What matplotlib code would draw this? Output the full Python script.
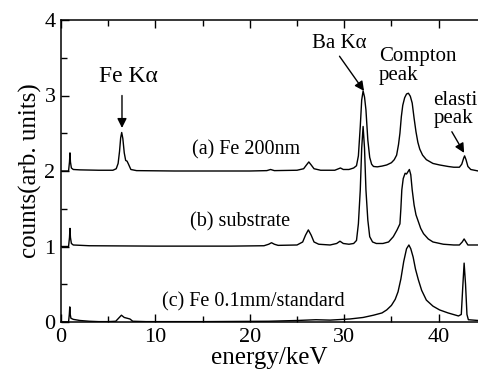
import matplotlib
matplotlib.use('Agg')
import matplotlib.pyplot as plt
from matplotlib.ticker import MultipleLocator

plt.rcParams['font.family'] = ['Liberation Serif', 'DejaVu Serif']
plt.rcParams['mathtext.fontset'] = 'stix'

# ---- spectra (energy in keV, counts in arb. units) ----
energy_a = [0.0, 0.8, 0.9, 0.95, 1.0, 1.1, 1.3, 2.0, 4.0, 5.5, 5.85, 6.05, 6.2, 6.32, 6.43, 6.55,
            6.7, 6.85, 7.0, 7.15, 7.4, 8.0, 12.0, 16.0, 20.0, 21.8, 22.2, 22.6, 25.0, 25.7,
            26.0, 26.25, 26.5, 26.8, 27.5, 29.0, 29.4, 29.6, 29.9, 30.5, 31.0, 31.3, 31.5,
            31.7, 31.85, 32.0, 32.15, 32.3, 32.5, 32.7, 32.9, 33.1, 33.5, 34.0, 34.5, 35.0,
            35.3, 35.55, 35.75, 35.9, 36.05, 36.2, 36.4, 36.6, 36.8, 37.0, 37.2, 37.4, 37.6,
            37.8, 38.0, 38.3, 38.7, 39.4, 40.1, 41.0, 41.6, 42.2, 42.45, 42.65, 42.75, 42.9,
            43.1, 43.4, 44.2]
counts_a = [2.00, 2.00, 2.12, 2.24, 2.12, 2.04, 2.02, 2.015, 2.01, 2.01, 2.03, 2.10, 2.26,
            2.44, 2.51, 2.43, 2.24, 2.14, 2.13, 2.09, 2.02, 2.005, 2.0, 2.0, 2.0, 2.005, 2.02,
            2.005, 2.01, 2.03, 2.08, 2.12, 2.08, 2.03, 2.01, 2.01, 2.03, 2.04, 2.02, 2.02,
            2.04, 2.07, 2.20, 2.59, 2.94, 3.06, 2.98, 2.81, 2.41, 2.18, 2.09, 2.06, 2.055,
            2.065, 2.08, 2.11, 2.15, 2.21, 2.35, 2.50, 2.72, 2.87, 2.97, 3.02, 3.03, 2.99,
            2.90, 2.70, 2.52, 2.38, 2.29, 2.21, 2.15, 2.10, 2.08, 2.06, 2.05, 2.05, 2.09,
            2.17, 2.20, 2.15, 2.06, 2.02, 2.00]

energy_b = [0.0, 0.8, 0.9, 0.95, 1.0, 1.1, 1.3, 3.0, 10.0, 18.0, 21.5, 22.0, 22.3, 22.6, 23.0,
            25.0, 25.6, 25.9, 26.2, 26.5, 26.8, 27.3, 28.5, 29.2, 29.55, 29.9, 30.5, 31.0,
            31.3, 31.5, 31.7, 31.85, 32.0, 32.15, 32.3, 32.5, 32.7, 33.0, 33.4, 34.1, 34.7,
            35.2, 35.6, 35.9, 36.0, 36.1, 36.25, 36.45, 36.6, 36.75, 36.9, 37.05, 37.2, 37.4,
            37.6, 37.85, 38.1, 38.4, 38.9, 39.4, 40.5, 41.6, 42.2, 42.5, 42.7, 42.9, 43.1,
            44.2]
counts_b = [1.00, 1.00, 1.12, 1.24, 1.12, 1.04, 1.02, 1.01, 1.005, 1.005, 1.01, 1.03, 1.05,
            1.03, 1.015, 1.02, 1.06, 1.15, 1.22, 1.15, 1.06, 1.03, 1.02, 1.04, 1.07, 1.04,
            1.03, 1.04, 1.08, 1.30, 1.75, 2.30, 2.59, 2.30, 1.75, 1.35, 1.13, 1.06, 1.04,
            1.04, 1.06, 1.13, 1.22, 1.30, 1.50, 1.75, 1.90, 1.97, 1.96, 1.99, 2.02, 1.95,
            1.75, 1.55, 1.42, 1.33, 1.24, 1.17, 1.10, 1.06, 1.03, 1.02, 1.02, 1.06, 1.10,
            1.06, 1.02, 1.02]

energy_c = [0.0, 0.8, 0.88, 0.93, 0.98, 1.05, 1.3, 2.0, 3.0, 4.0, 5.0, 5.8, 6.1, 6.4, 6.7,
            7.0, 7.3, 7.6, 9.0, 15.0, 22.0, 25.0, 27.0, 28.5, 30.6, 32.0, 33.1, 34.0, 34.5,
            35.0, 35.4, 35.7, 36.0, 36.3, 36.6, 36.85, 37.05, 37.3, 37.55, 37.85, 38.2, 38.7,
            39.4, 40.1, 41.0, 42.1, 42.4, 42.55, 42.7, 42.85, 43.0, 43.15, 44.2]
counts_c = [0.0, 0.0, 0.10, 0.20, 0.10, 0.05, 0.035, 0.02, 0.01, 0.005, 0.005, 0.01, 0.05,
            0.09, 0.06, 0.05, 0.04, 0.01, 0.005, 0.005, 0.01, 0.02, 0.03, 0.025, 0.04, 0.06,
            0.09, 0.12, 0.16, 0.22, 0.30, 0.40, 0.57, 0.80, 0.97, 1.02, 0.97, 0.86, 0.70,
            0.56, 0.42, 0.29, 0.21, 0.16, 0.12, 0.08, 0.10, 0.45, 0.78, 0.50, 0.10, 0.03,
            0.02]

curve_labels = ['(a) Fe 200nm', '(b) substrate', '(c) Fe 0.1mm/standard']


fig = plt.figure(figsize = (4.78, 3.80), dpi = 100)
ax = fig.add_axes([61/478, 58/380, 417/478, 302/380])

for x, y in [(energy_a, counts_a), (energy_b, counts_b), (energy_c, counts_c)]:
    ax.plot(x, y, color = 'black', linewidth = 1.0)

ax.set_xlim(0, 44.17)
ax.set_ylim(0, 4)
ax.xaxis.set_major_locator(MultipleLocator(10))
ax.xaxis.set_minor_locator(MultipleLocator(5))
ax.yaxis.set_major_locator(MultipleLocator(1))
ax.yaxis.set_minor_locator(MultipleLocator(0.5))
ax.tick_params(which = 'both', direction = 'in', top = True, right = False, width = 1)
ax.tick_params(which = 'major', length = 6, labelsize = 16, pad = 4)
ax.tick_params(which = 'minor', length = 4)
ax.spines['right'].set_visible(False)
for s in ['left', 'bottom', 'top']:
    ax.spines[s].set_linewidth(1.1)

ax.set_xlabel('energy/keV', fontsize = 18, labelpad = 0)
ax.set_ylabel('counts(arb. units)', fontsize = 18, labelpad = 2)

# curve labels
ax.text(13.85, 2.28, curve_labels[0], fontsize = 14.5, va = 'center')
ax.text(13.7, 1.32, curve_labels[1], fontsize = 14.5, va = 'center')
ax.text(10.7, 0.27, curve_labels[2], fontsize = 14.5, va = 'center')

# peak annotations
arrow = dict(arrowstyle = '-|>', color = 'black', lw = 1, mutation_scale = 14, shrinkA = 0, shrinkB = 0)
ax.text(7.15, 3.25, 'Fe K\u03b1', fontsize = 17, ha = 'center', va = 'center')
ax.annotate('', xy = (6.46, 2.57), xytext = (6.46, 3.0), arrowprops = arrow)

ax.text(29.45, 3.69, 'Ba K\u03b1', fontsize = 15, ha = 'center', va = 'center')
ax.annotate('', xy = (32.1, 3.06), xytext = (29.5, 3.52), arrowprops = arrow)

ax.text(33.7, 3.39, 'Compton\npeak', fontsize = 15, ha = 'left', va = 'center', linespacing = 0.95)

# the reference crops this label at the right edge as well
ax.text(39.45, 2.815, 'elastic\npeak', fontsize = 15, ha = 'left', va = 'center', linespacing = 0.95,
        clip_on = False)
ax.annotate('', xy = (42.7, 2.24), xytext = (41.4, 2.52), arrowprops = arrow)

plt.savefig('out.png', dpi = 100)
